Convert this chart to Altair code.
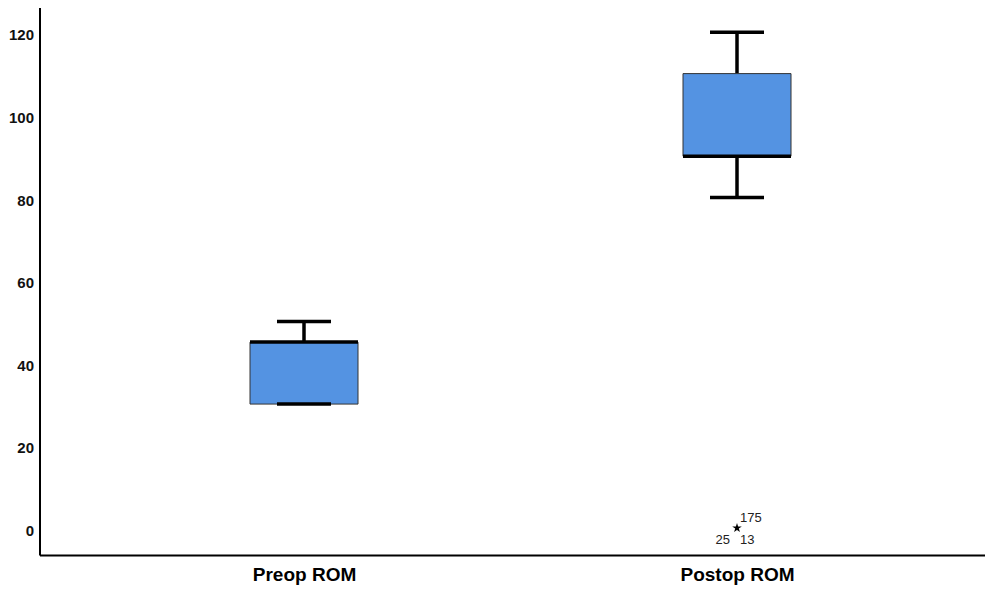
import altair as alt
import pandas as pd

# ---- data ----
categories = ["Preop ROM", "Postop ROM"]
whisker_low = [30, 80]
q1 = [30, 90]
median = [45, 90]
q3 = [45, 110]
whisker_high = [50, 120]

outlier_category = ["Postop ROM"]
outlier_value = [0]
outlier_ids_above_right = ["175"]
outlier_ids_below_left = ["25"]
outlier_ids_below_right = ["13"]

y_ticks = [0, 20, 40, 60, 80, 100, 120]

stats = pd.DataFrame({
    "cat": categories,
    "lo": whisker_low,
    "q1": q1,
    "med": median,
    "q3": q3,
    "hi": whisker_high,
})
outl = pd.DataFrame({"cat": outlier_category, "v": outlier_value})
lab_ar = pd.DataFrame({"cat": outlier_category, "v": outlier_value, "t": outlier_ids_above_right})
lab_bl = pd.DataFrame({"cat": outlier_category, "v": outlier_value, "t": outlier_ids_below_left})
lab_br = pd.DataFrame({"cat": outlier_category, "v": outlier_value, "t": outlier_ids_below_right})

FONT = "Liberation Sans"
BOX_W = 108
CAP_W = 54

x_enc = alt.X(
    "cat:N",
    sort=categories,
    scale=alt.Scale(type="point", domain=categories, padding=0.5918, align=0.5161),
    axis=alt.Axis(
        title=None, labelAngle=0, ticks=False, tickSize=0, grid=False,
        domainColor="#000000", domainWidth=2,
        labelFont=FONT, labelFontSize=19, labelFontWeight="bold",
        labelColor="#000000", labelPadding=10,
    ),
)
y_scale = alt.Scale(domain=[-6.54, 126.85], nice=False, zero=False)
y_axis = alt.Axis(
    title=None, values=y_ticks, ticks=False, tickSize=0, grid=False,
    domainColor="#000000", domainWidth=2,
    labelFont=FONT, labelFontSize=15, labelFontWeight="bold",
    labelColor="#111111", labelPadding=6, labelOffset=2.5,
)

base = alt.Chart(stats)

whisk_lo = base.mark_rule(color="#000000", strokeWidth=3.5, opacity=1).encode(
    x=x_enc, y=alt.Y("lo:Q", scale=y_scale, axis=y_axis), y2="q1:Q"
)
whisk_hi = base.mark_rule(color="#000000", strokeWidth=3.5, opacity=1).encode(
    x=x_enc, y=alt.Y("q3:Q", scale=y_scale, axis=y_axis), y2="hi:Q"
)
box = base.mark_bar(size=BOX_W, color="#5493E2", stroke="#333333", strokeWidth=1, opacity=1).encode(
    x=x_enc, y=alt.Y("q1:Q", scale=y_scale, axis=y_axis), y2="q3:Q"
)
cap_lo = base.mark_tick(size=CAP_W, thickness=3.5, color="#000000", opacity=1).encode(
    x=x_enc, y=alt.Y("lo:Q", scale=y_scale, axis=y_axis)
)
cap_hi = base.mark_tick(size=CAP_W, thickness=3.5, color="#000000", opacity=1).encode(
    x=x_enc, y=alt.Y("hi:Q", scale=y_scale, axis=y_axis)
)
med = base.mark_tick(size=BOX_W, thickness=3.5, color="#000000", opacity=1).encode(
    x=x_enc, y=alt.Y("med:Q", scale=y_scale, axis=y_axis)
)

STAR = ("M0,-1L0.2245,-0.309L0.9511,-0.309L0.3633,0.118L0.5878,0.809L0,0.382"
        "L-0.5878,0.809L-0.3633,0.118L-0.9511,-0.309L-0.2245,-0.309Z")
star = alt.Chart(outl).mark_point(shape=STAR, size=100, filled=True, color="#000000", opacity=1).encode(
    x=x_enc, y=alt.Y("v:Q", scale=y_scale, axis=y_axis)
)

def id_text(df, align, dx, dy):
    return alt.Chart(df).mark_text(
        font=FONT, fontSize=13, color="#222222", align=align, baseline="middle", dx=dx, dy=dy
    ).encode(x=x_enc, y=alt.Y("v:Q", scale=y_scale, axis=y_axis), text="t:N")

t1 = id_text(lab_ar, "left", 3, -10)
t2 = id_text(lab_bl, "right", -7, 12)
t3 = id_text(lab_br, "left", 3, 12)

chart = alt.layer(whisk_lo, whisk_hi, box, cap_lo, cap_hi, med, star, t1, t2, t3).properties(
    width=945.5,
    height=551,
    autosize=alt.AutoSizeParams(type="none"),
    padding={"left": 31.5, "top": -4, "right": 0, "bottom": 30},
    background="#ffffff",
).configure_view(stroke=None)

chart.save("out.html", embed_options={"renderer": "svg", "actions": False})
